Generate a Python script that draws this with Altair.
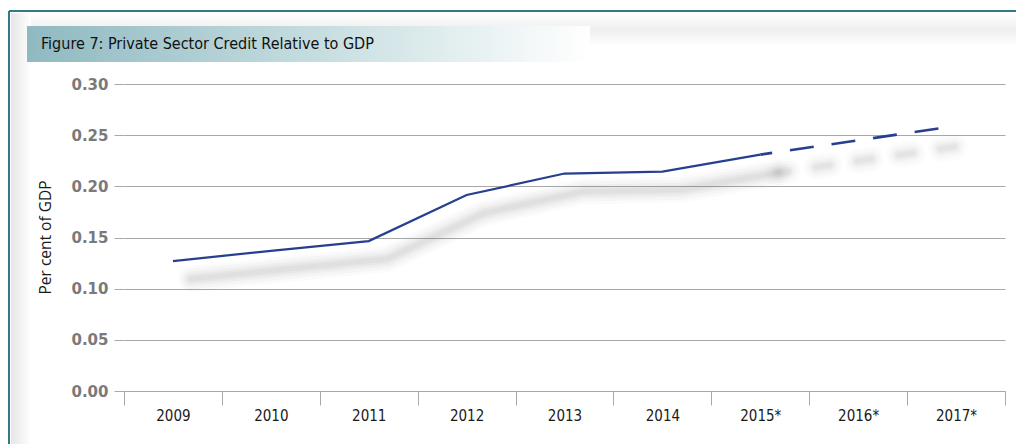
import altair as alt
import pandas as pd

# ---- data ----
years = ["2009", "2010", "2011", "2012", "2013", "2014", "2015*", "2016*", "2017*"]
values = [0.127, 0.137, 0.1465, 0.1915, 0.2125, 0.2143, 0.231, 0.245, 0.259]
actual_years = years[:7]      # solid segment (through 2015*)
forecast_years = years[6:]    # dashed segment
y_ticks = [0.0, 0.05, 0.10, 0.15, 0.20, 0.25, 0.30]
title_text = "Figure 7: Private Sector Credit Relative to GDP"
y_title = "Per cent of GDP"

df = pd.DataFrame({"year": years, "value": values})
solid_df = df[df["year"].isin(actual_years)]
dash_df = df[df["year"].isin(forecast_years)]
dummy = pd.DataFrame({"a": [0]})

W, H = 881, 307
GRID = "#a8a8a8"
LINE = "#263f8e"
NARROW = "DejaVu Sans Condensed, Lato, sans-serif"

x_enc = alt.X(
    "year:N", sort=years, bandPosition=0.5,
    scale=alt.Scale(type="band", paddingInner=0, paddingOuter=0),
    axis=alt.Axis(title=None, tickBand="extent", labelAngle=0, grid=False,
                  domainColor=GRID, tickColor=GRID, tickSize=14,
                  labelFont=NARROW, labelFontSize=15,
                  labelColor="#1a1a1a", labelPadding=3),
)
y_enc = alt.Y(
    "value:Q", scale=alt.Scale(domain=[0, 0.3], nice=False, zero=True),
    axis=alt.Axis(values=y_ticks, format=".2f", grid=True, gridColor=GRID,
                  domain=False, tickSize=10, tickColor=GRID, labelPadding=6,
                  labelFont="DejaVu Sans", labelFontWeight="bold",
                  labelFontSize=15, labelColor="#7a7a7a",
                  title=y_title, titleX=-79, titleY=H / 2 - 0.5, titleAngle=270,
                  titleAlign="center", titleBaseline="middle",
                  titleFont="Open Sans", titleFontSize=15.5,
                  titleFontWeight="normal", titleColor="#1a1a1a"),
)

# ---- decorative frame ----
top_shade = alt.Chart(dummy).mark_rect(
    fill=alt.Gradient(gradient="linear", x1=0, x2=0, y1=0, y2=1,
                      stops=[alt.GradientStop(color="#ffffff", offset=0),
                             alt.GradientStop(color="#efefef", offset=0.5),
                             alt.GradientStop(color="#ffffff", offset=1)])
).encode(x=alt.value(-113), x2=alt.value(892), y=alt.value(-71), y2=alt.value(-38))

left_shade = alt.Chart(dummy).mark_rect(
    fill=alt.Gradient(gradient="linear", x1=0, x2=1, y1=0, y2=0,
                      stops=[alt.GradientStop(color="#e6e6e6", offset=0),
                             alt.GradientStop(color="#ffffff", offset=1)])
).encode(x=alt.value(-113), x2=alt.value(-93), y=alt.value(-71), y2=alt.value(360))

title_bar = alt.Chart(dummy).mark_rect(
    fill=alt.Gradient(gradient="linear", x1=0, x2=1, y1=0, y2=0,
                      stops=[alt.GradientStop(color="#8fb9c1", offset=0),
                             alt.GradientStop(color="#c4dcdf", offset=0.5),
                             alt.GradientStop(color="#ffffff", offset=1)])
).encode(x=alt.value(-97), x2=alt.value(466), y=alt.value(-58), y2=alt.value(-22))

frame_top = alt.Chart(dummy).mark_rule(color="#2e7c85", strokeWidth=2).encode(
    x=alt.value(-115), x2=alt.value(892), y=alt.value(-73))
frame_left = alt.Chart(dummy).mark_rule(color="#2e7c85", strokeWidth=2).encode(
    x=alt.value(-115), y=alt.value(-73), y2=alt.value(360))

title = alt.Chart(pd.DataFrame({"t": [title_text]})).mark_text(
    align="left", baseline="middle", font=NARROW,
    fontSize=16, color="#111111"
).encode(x=alt.value(-83), y=alt.value(-40), text="t:N")

# ---- soft drop shadow of the line ----
shadow_layers = []
for sw, op in [(26, 0.03), (20, 0.04), (14, 0.05), (9, 0.06), (5, 0.06)]:
    shadow_layers.append(
        alt.Chart(solid_df).mark_line(color="#707070", strokeWidth=sw, opacity=op,
                                      strokeCap="round", strokeJoin="round",
                                      xOffset=18, yOffset=18)
        .encode(x=x_enc, y=y_enc))
    shadow_layers.append(
        alt.Chart(dash_df).mark_line(color="#707070", strokeWidth=sw, opacity=op * 0.8,
                                     strokeCap="round", strokeDash=[14, 28],
                                     strokeDashOffset=4, xOffset=18, yOffset=18)
        .encode(x=x_enc, y=y_enc))

solid = alt.Chart(solid_df).mark_line(color=LINE, strokeWidth=2.2).encode(x=x_enc, y=y_enc)
dashed = alt.Chart(dash_df).mark_line(color=LINE, strokeWidth=2.6, strokeDash=[24, 18],
                                      strokeDashOffset=12).encode(x=x_enc, y=y_enc)

chart = alt.layer(
    top_shade, left_shade, title_bar, frame_top, frame_left, title,
    *shadow_layers, solid, dashed
).properties(
    width=W, height=H,
    autosize=alt.AutoSizeParams(type="none"),
    padding={"left": 124, "top": 84, "right": 11, "bottom": 53},
    background="white",
).configure_view(stroke=None)

chart.save("out.html", embed_options={"renderer": "svg", "actions": False})
